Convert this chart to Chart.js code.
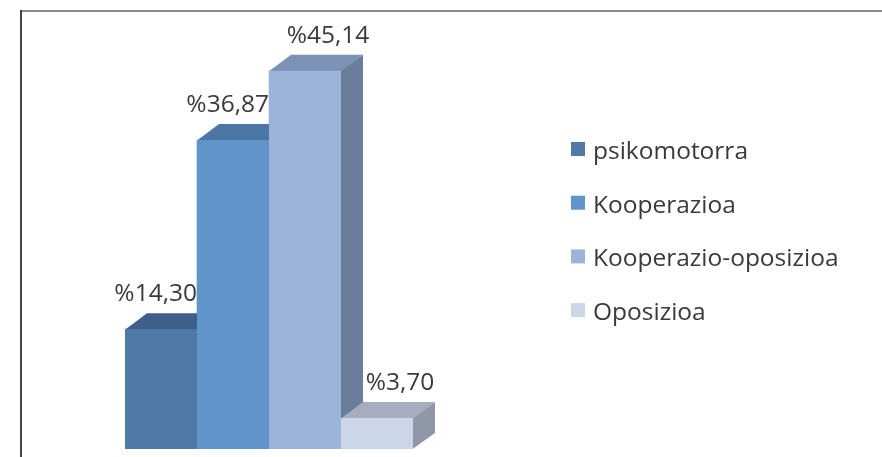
<!DOCTYPE html>
<html>
<head>
<meta charset="utf-8">
<script src="https://cdn.jsdelivr.net/npm/chart.js@4/dist/chart.umd.min.js"></script>
<style>
  html, body { margin: 0; padding: 0; background: #fff; }
  canvas { display: block; }
</style>
</head>
<body>
<canvas id="chart" width="882" height="457"></canvas>
<script>
// data
const categories = ['']
const seriesNames = ['psikomotorra', 'Kooperazioa', 'Kooperazio-oposizioa', 'Oposizioa']
const seriesValues = [14.30, 36.87, 45.14, 3.70]

// styles
const frontColors = ['#4f7aa8', '#6195c9', '#9db4da', '#cbd6e9']
const topColors = ['#3e5f88', '#4a77a5', '#7b92b5', '#a6adbf']
const sideColors = ['#34506f', '#4a6a8e', '#6a7e9c', '#9098a8']
const textColor = '#3a3a3a'
const fontFamily = '"Open Sans", sans-serif'
const fontSize = 24.5

const depthX = 22
const depthY = -16

const formatValue = v => '%' + v.toFixed(2).replace('.', ',')

const bars3d = {
  id: 'bars3d',
  beforeDraw(chart) {
    const ctx = chart.ctx
    ctx.save()
    ctx.fillStyle = '#fff'
    ctx.fillRect(0, 0, chart.width, chart.height)
    ctx.lineWidth = 2
    ctx.strokeStyle = '#8a8a8a'
    ctx.beginPath()
    ctx.moveTo(20, 11)
    ctx.lineTo(chart.width, 11)
    ctx.stroke()
    ctx.strokeStyle = '#444'
    ctx.beginPath()
    ctx.moveTo(21, 10)
    ctx.lineTo(21, chart.height)
    ctx.stroke()
    ctx.restore()
  },
  // redraw every bar left to right with its side and top, so the next bar covers the previous side
  afterDatasetsDraw(chart) {
    const ctx = chart.ctx
    const n = chart.data.datasets.length
    for (let i = 0; i < n; i++) {
      chart.getDatasetMeta(i).data.forEach(bar => {
        const { x, y, base, width } = bar.getProps(['x', 'y', 'base', 'width'], true)
        const l = x - width / 2
        const r = x + width / 2
        ctx.save()
        ctx.fillStyle = sideColors[i]
        ctx.beginPath()
        ctx.moveTo(r - 0.5, y)
        ctx.lineTo(r + depthX, y + depthY)
        ctx.lineTo(r + depthX, base + depthY)
        ctx.lineTo(r - 0.5, base)
        ctx.closePath()
        ctx.fill()
        ctx.fillStyle = topColors[i]
        ctx.beginPath()
        ctx.moveTo(l, y + 0.5)
        ctx.lineTo(l + depthX, y + depthY)
        ctx.lineTo(r + depthX, y + depthY)
        ctx.lineTo(r, y + 0.5)
        ctx.closePath()
        ctx.fill()
        ctx.fillStyle = frontColors[i]
        ctx.fillRect(l, y, width, base - y)
        ctx.restore()
      })
    }
  },
  afterDraw(chart) {
    const ctx = chart.ctx
    const n = chart.data.datasets.length
    ctx.save()
    ctx.font = fontSize + 'px ' + fontFamily
    ctx.fillStyle = textColor
    ctx.textBaseline = 'alphabetic'

    // value labels above each bar's top face
    ctx.textAlign = 'center'
    for (let i = 0; i < n; i++) {
      const bar = chart.getDatasetMeta(i).data[0]
      const text = formatValue(seriesValues[i])
      const w = ctx.measureText(text).width
      let cx = bar.x + depthX + 1
      if (i + 1 < n && seriesValues[i + 1] > seriesValues[i]) {
        const next = chart.getDatasetMeta(i + 1).data[0]
        cx = Math.min(cx, next.x - next.width / 2 - w / 2)
      }
      ctx.fillText(text, cx, bar.y + depthY - 12)
    }

    // legend
    ctx.textAlign = 'left'
    const legendX = 571
    const firstBaseline = 159
    const rowStep = 53.7
    chart.data.datasets.forEach((ds, i) => {
      const yb = firstBaseline + i * rowStep
      ctx.fillStyle = ds.backgroundColor
      ctx.fillRect(legendX, yb - 17, 14, 14)
      ctx.fillStyle = textColor
      ctx.fillText(ds.label, legendX + 22, yb)
    })
    ctx.restore()
  }
}

new Chart(document.getElementById('chart'), {
  type: 'bar',
  data: {
    labels: categories,
    datasets: seriesNames.map((name, i) => ({
      label: name,
      data: [seriesValues[i]],
      backgroundColor: frontColors[i],
      borderWidth: 0
    }))
  },
  options: {
    responsive: false,
    animation: false,
    devicePixelRatio: 1,
    layout: { padding: { left: 125, right: 469, top: 30, bottom: 8 } },
    datasets: { bar: { categoryPercentage: 1, barPercentage: 1 } },
    scales: {
      x: { display: false },
      y: { display: false, min: 0, max: 50 }
    },
    plugins: {
      legend: { display: false },
      tooltip: { enabled: false }
    }
  },
  plugins: [bars3d]
})
</script>
</body>
</html>
